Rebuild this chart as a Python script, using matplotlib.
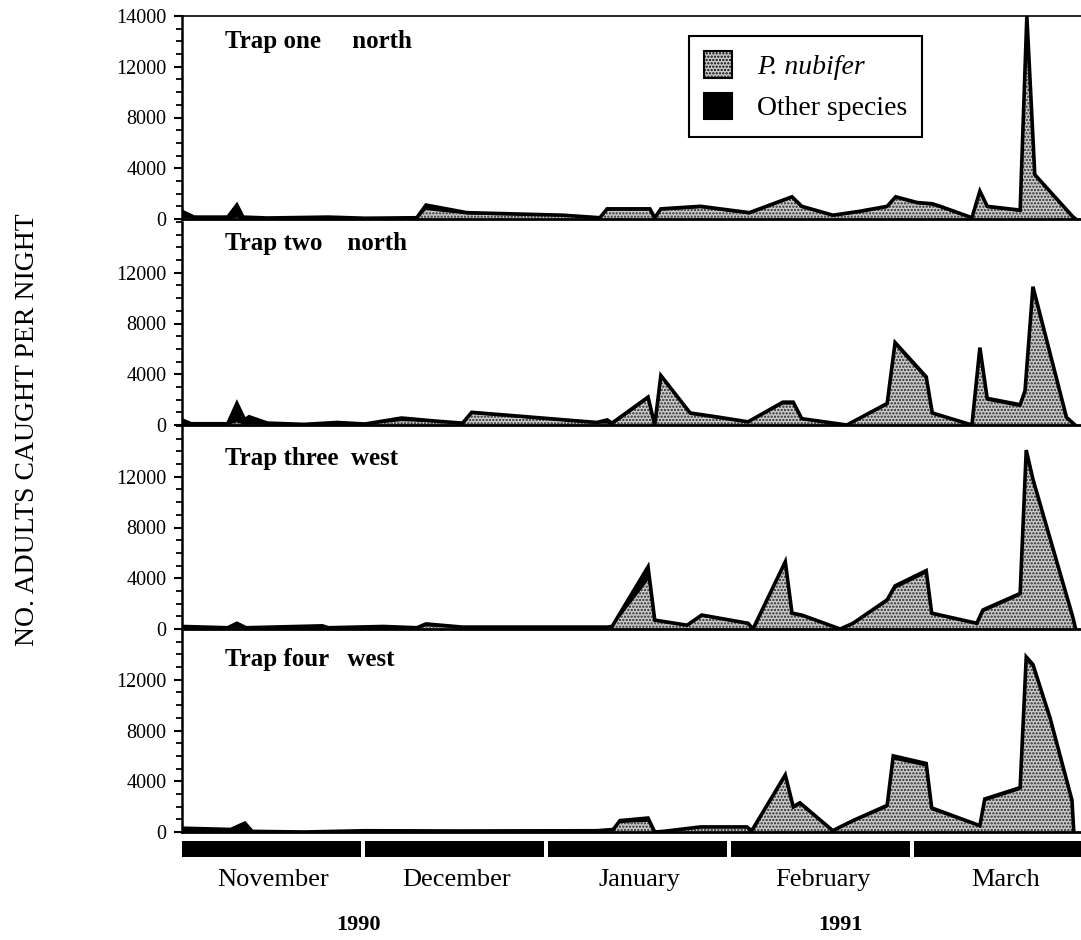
import matplotlib
matplotlib.use('Agg')
import matplotlib.pyplot as plt
from matplotlib.patches import Patch
from matplotlib.ticker import MultipleLocator
import matplotlib.transforms as mtransforms

# Days counted from 1 November 1990 (month bars drawn as 30-day blocks)
trap_names = ['Trap one     north', 'Trap two    north', 'Trap three  west', 'Trap four   west']

days_1 = [0, 2, 7.5, 9, 10, 14, 24, 30, 38.5, 40, 46.7, 62.5, 68.5, 69.7, 76.7, 77.5, 78.5,
          85, 93, 100, 101.6, 106.7, 111, 115.6, 117, 120.5, 123, 124.3, 129.5, 130.8,
          132, 137.4, 138.5, 139.8, 146, 146.5]
nub_1 = [100, 0, 0, 100, 0, 0, 0, 0, 0, 700, 350, 200, 0, 650, 650, 0, 650,
         850, 350, 1600, 850, 200, 450, 850, 1600, 1150, 1050, 850, 0, 2050,
         850, 550, 15800, 3350, 100, 0]
other_1 = [500, 150, 150, 1000, 150, 80, 150, 60, 100, 400, 150, 100, 100, 150, 150, 100, 150,
           150, 150, 150, 150, 100, 150, 150, 150, 150, 150, 150, 100, 150,
           150, 150, 200, 150, 100, 0]

days_2 = [0, 1.5, 7.5, 9, 10.3, 11, 14, 20, 25.4, 30, 36, 41.8, 46, 47.5, 68, 69.7, 70.5,
          71.8, 76.4, 77.5, 78.5, 83.3, 88.2, 92.8, 98.5, 100.2, 101.6, 109, 115.6, 116.9,
          122, 123, 129.5, 130.8, 132, 137.4, 138.2, 139.5, 145, 146.4]
nub_2 = [0, 0, 0, 200, 0, 50, 0, 0, 0, 0, 300, 200, 50, 850, 100, 100, 0,
         400, 2000, 0, 3700, 800, 450, 150, 1600, 1600, 400, 0, 1500, 6250,
         3550, 800, 0, 5900, 1900, 1400, 2500, 10650, 450, 0]
other_2 = [400, 100, 100, 1500, 400, 600, 150, 50, 200, 80, 250, 100, 100, 150, 100, 300, 150,
           200, 200, 0, 200, 150, 150, 100, 200, 200, 100, 0, 200, 250,
           250, 150, 0, 200, 200, 200, 200, 250, 150, 0]

days_3 = [0, 7.5, 9, 10.5, 23, 24, 33, 38.5, 40, 46, 69.7, 70.5, 76.4, 77.5, 82.8, 85.2,
          92.8, 93.6, 98.9, 100, 101.6, 107.9, 110, 115.6, 116.9, 122, 122.9, 130.3,
          131.3, 137.4, 138.4, 139.5, 146, 146.5]
nub_3 = [0, 0, 50, 0, 0, 0, 0, 0, 200, 50, 50, 100, 3800, 600, 200, 950,
         350, 0, 5000, 1100, 950, 0, 350, 2100, 3150, 4350, 1100, 350,
         1300, 2600, 13800, 11500, 850, 0]
other_3 = [200, 100, 400, 100, 250, 100, 200, 100, 200, 100, 100, 100, 1100, 100, 100, 150,
           100, 0, 300, 150, 150, 0, 100, 200, 250, 250, 150, 100,
           200, 200, 300, 300, 150, 0]

days_4 = [0, 8, 10.3, 11.5, 20, 30, 45, 68, 70.7, 71.8, 76.4, 77.5, 78.9, 85, 92.6, 93.4,
          98.9, 100.2, 101.3, 106.7, 107.9, 110, 115.6, 116.6, 122, 122.9, 130.8, 131.6,
          137.4, 138.4, 139.5, 142.3, 145.9, 146.2]
nub_4 = [0, 0, 0, 0, 0, 0, 0, 0, 100, 700, 800, 0, 0, 300, 300, 0,
         4200, 1800, 2100, 0, 300, 750, 1900, 5700, 5150, 1700, 400, 2400,
         3300, 13500, 12900, 8800, 2350, 0]
other_4 = [300, 200, 700, 50, 0, 100, 80, 100, 100, 200, 300, 0, 50, 100, 100, 100,
           300, 200, 200, 100, 100, 150, 200, 300, 250, 200, 100, 200,
           200, 300, 300, 200, 150, 0]

all_days = [days_1, days_2, days_3, days_4]
all_nub = [nub_1, nub_2, nub_3, nub_4]
all_other = [other_1, other_2, other_3, other_4]

months = ['November', 'December', 'January', 'February', 'March']
month_starts = [0, 30, 60, 90, 120]
years = ['1990', '1991']
year_pos = [29, 108]

plt.rcParams['font.family'] = ['Liberation Serif', 'DejaVu Serif']
plt.rcParams['hatch.linewidth'] = 1.1

fig = plt.figure(figsize=(10.81, 9.4), dpi=100)
W, H = 1081, 940
left = 182 / W
width = 1 - left
baselines = [219, 425, 629, 832]
ph = 203
xmax = (W - 182) / 6.1

stip_face = '#cccccc'
stip_hatch = '#262626'

axes = []
for i in range(4):
    ax = fig.add_axes([left, 1 - baselines[i] / H, width, ph / H])
    axes.append(ax)
    d = all_days[i]
    p = all_nub[i]
    tot = [a + b for a, b in zip(p, all_other[i])]
    ax.fill_between(d, 0, p, facecolor=stip_face, edgecolor=stip_hatch, hatch='.....',
                    linewidth=0)
    ax.fill_between(d, p, tot, facecolor='black', linewidth=0)
    ax.plot(d, tot, color='black', lw=2.6, solid_joinstyle='miter')
    ax.set_xlim(0, xmax)
    ax.set_ylim(0, 16000)
    if i == 0:
        ax.set_yticks([0, 4000, 8000, 12000, 16000], labels=['0', '4000', '8000', '12000', '14000'])
    else:
        ax.set_yticks([0, 4000, 8000, 12000], labels=['0', '4000', '8000', '12000'])
    ax.yaxis.set_minor_locator(MultipleLocator(1000))
    ax.tick_params(axis='y', which='major', direction='out', length=6, width=1.5,
                   labelsize=14.5, pad=5)
    ax.tick_params(axis='y', which='minor', direction='out', length=4, width=1.3)
    ax.tick_params(axis='x', which='both', bottom=False, labelbottom=False)
    ax.spines['right'].set_visible(False)
    ax.spines['top'].set_visible(i == 0)
    ax.spines['top'].set_linewidth(1.2)
    ax.spines['left'].set_linewidth(1.8)
    ax.spines['bottom'].set_linewidth(2.0)
    ax.patch.set_alpha(0)
    title_y = [0.84, 0.86, 0.81, 0.82][i]
    ax.text(0.048, title_y, trap_names[i], transform=ax.transAxes, fontsize=18,
            fontweight='bold', va='baseline', ha='left')

# Legend in the top panel
handles = [Patch(facecolor=stip_face, edgecolor='black', hatch='.....', linewidth=1.5),
           Patch(facecolor='black', edgecolor='black', linewidth=1.5)]
leg = axes[0].legend(handles, ['P. nubifer', 'Other species'], loc='upper left',
                     bbox_to_anchor=((675 - 182) / (W - 182), 0.97), fontsize=20,
                     handlelength=1.0, handleheight=1.1, handletextpad=0.9,
                     labelspacing=0.45, borderpad=0.55, fancybox=False, framealpha=1)
leg.get_frame().set_edgecolor('black')
leg.get_frame().set_linewidth(1.5)
leg.get_texts()[0].set_fontstyle('italic')

# Month bars
axm = fig.add_axes([left, 1 - 857 / H, width, 16 / H])
axm.barh([0] * len(months), [29.3] * len(months), left=month_starts, height=1, color='black')
axm.set_xlim(0, xmax)
axm.set_ylim(-0.5, 0.5)
axm.axis('off')
blend = mtransforms.blended_transform_factory(axm.transData, fig.transFigure)
for m, s in zip(months, month_starts):
    axm.text(s + 15, 1 - 880 / H, m, transform=blend, ha='center', va='center', fontsize=19)
for y, xp in zip(years, year_pos):
    axm.text(xp, 1 - 925 / H, y, transform=blend, ha='center', va='center', fontsize=16,
             fontweight='bold')

fig.text(28 / W, 1 - 430 / H, 'NO. ADULTS CAUGHT PER NIGHT', rotation=90, ha='center',
         va='center', fontsize=20)

fig.savefig('out.png', dpi=100)
